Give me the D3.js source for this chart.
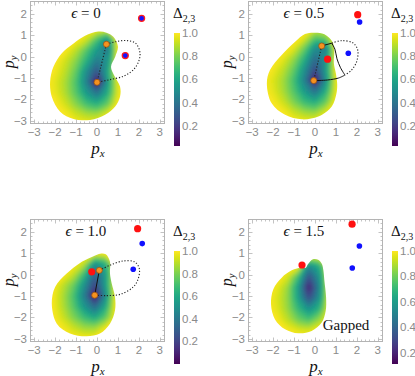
<!DOCTYPE html>
<html>

<head>
	<meta charset="utf-8">
	<script src="https://cdn.jsdelivr.net/npm/d3@7"></script>
	<style>
		body {
			margin: 0;
			background: #fff;
		}

		svg {
			display: block;
		}

		.tick-label {
			font: 11.5px "Liberation Sans", Arial, sans-serif;
			fill: #8a8a8a;
		}

		.serif {
			font-family: "Liberation Serif", "Times New Roman", serif;
			fill: #111;
		}
	</style>
</head>

<body>
	<svg width="415" height="376"></svg>

	<script>
		// ---- data ----
		var epsilons = ["0", "0.5", "1.0", "1.5"];
		var xTicks = [-3, -2, -1, 0, 1, 2, 3];
		var yTicks = [-3, -2, -1, 0, 1, 2];
		var cbTicks = [0.2, 0.4, 0.6, 0.8, 1.0];
		var cbMin = [0.025, 0.025, 0.0, 0.11];

		// Delta_{2,3} sampled on a 0.5 grid; rows go from top (gridY0) downwards
		var gridStep = 0.5;
		var gridX0 = [-2.5, -2.5, -2.6, -2.8];
		var gridY0 = [1.3, 1.4, 1.5, 1.4];

		var grid1 = [
			[1, 1, 1, 1, 1, 1, 1, 1, 1],
			[1, 1, 1, 1, 0.93, 0.72, 0.5, 1, 1],
			[1, 1, 0.99, 0.9, 0.74, 0.55, 0.4, 1, 1],
			[1, 1, 0.93, 0.82, 0.64, 0.42, 0.52, 1, 1],
			[1, 0.98, 0.9, 0.76, 0.5, 0.27, 0.6, 1, 1],
			[1, 0.96, 0.87, 0.72, 0.45, 0.03, 0.55, 0.97, 1],
			[1, 0.97, 0.88, 0.74, 0.55, 0.4, 0.62, 0.96, 1],
			[1, 1, 0.93, 0.82, 0.7, 0.64, 0.76, 1, 1],
			[1, 1, 0.99, 0.93, 0.88, 0.87, 0.97, 1, 1],
			[1, 1, 1, 1, 1, 1, 1, 1, 1],
			[1, 1, 1, 1, 1, 1, 1, 1, 1]
		];
		var grid2 = [
			[1, 1, 1, 1, 1, 1, 1, 1, 1],
			[1, 1, 1, 1, 0.96, 0.75, 0.8, 1, 1],
			[1, 1, 1, 0.96, 0.78, 0.5, 0.42, 1, 1],
			[1, 1, 0.96, 0.84, 0.64, 0.36, 0.5, 1, 1],
			[1, 0.98, 0.9, 0.76, 0.52, 0.24, 0.55, 1, 1],
			[1, 0.95, 0.86, 0.7, 0.45, 0.04, 0.5, 0.97, 1],
			[1, 0.96, 0.87, 0.73, 0.55, 0.38, 0.62, 0.97, 1],
			[1, 0.99, 0.92, 0.8, 0.68, 0.62, 0.76, 1, 1],
			[1, 1, 0.99, 0.92, 0.86, 0.84, 0.95, 1, 1],
			[1, 1, 1, 1, 1, 1, 1, 1, 1],
			[1, 1, 1, 1, 1, 1, 1, 1, 1]
		];
		var grid3 = [
			[1, 1, 1, 1, 1, 1, 1, 1, 1],
			[1, 1, 1, 1, 1, 1, 1, 1, 1],
			[1, 1, 1, 1, 0.9, 0.48, 0.62, 1, 1],
			[1, 1, 1, 0.9, 0.66, 0.3, 0.55, 1, 1],
			[1, 1, 0.9, 0.76, 0.5, 0.2, 0.55, 1, 1],
			[1, 0.99, 0.87, 0.7, 0.42, 0.0, 0.48, 1, 1],
			[1, 0.99, 0.88, 0.73, 0.52, 0.35, 0.6, 1, 1],
			[1, 1, 0.92, 0.8, 0.68, 0.6, 0.75, 1, 1],
			[1, 1, 0.98, 0.92, 0.86, 0.86, 0.98, 1, 1],
			[1, 1, 1, 1, 1, 1, 1, 1, 1],
			[1, 1, 1, 1, 1, 1, 1, 1, 1]
		];
		var grid4 = [
			[1, 1, 1, 1, 1, 1, 1, 1, 1],
			[1, 1, 1, 1, 1, 1, 1, 1, 1],
			[1, 1, 1, 1, 1, 0.52, 0.66, 1, 1],
			[1, 1, 1, 0.95, 0.72, 0.33, 0.57, 1, 1],
			[1, 1, 0.97, 0.86, 0.6, 0.17, 0.52, 1, 1],
			[1, 1, 0.95, 0.85, 0.62, 0.32, 0.56, 1, 1],
			[1, 1, 0.96, 0.86, 0.7, 0.56, 0.68, 1, 1],
			[1, 1, 0.99, 0.91, 0.8, 0.74, 0.86, 1, 1],
			[1, 1, 1, 0.99, 0.96, 0.95, 1, 1, 1],
			[1, 1, 1, 1, 1, 1, 1, 1, 1],
			[1, 1, 1, 1, 1, 1, 1, 1, 1]
		];

		// edge of the coloured region (Delta = 1)
		var outline1 = [[0.06, 1.17], [0.45, 1.12], [0.78, 0.93], [1.0, 0.47], [0.87, 0.0], [0.67, -0.47], [0.81, -0.86], [1.1, -1.4], [1.1, -1.87], [0.87, -2.33], [0.39, -2.72], [-0.33, -2.96], [-1.12, -2.91], [-1.76, -2.57], [-2.16, -1.87], [-2.24, -1.17], [-2.08, -0.47], [-1.68, 0.16], [-1.12, 0.62], [-0.57, 0.98]];
		var outline2 = [[0, 1.12], [0.45, 1.05], [0.83, 0.7], [0.92, 0.31], [0.9, -0.3], [1.0, -0.8], [1.06, -1.3], [1.02, -1.75], [0.8, -2.33], [0.16, -2.8], [-0.63, -2.93], [-1.43, -2.72], [-2.07, -2.18], [-2.3, -1.25], [-2.15, -0.62], [-1.59, 0.08], [-0.95, 0.7], [-0.48, 1.06]];
		var outline3 = [[-0.09, 0.9], [0.15, 0.98], [0.42, 0.95], [0.62, 0.6], [0.62, 0.05], [0.7, -0.4], [0.86, -1.04], [0.86, -1.66], [0.62, -2.29], [0.14, -2.75], [-0.49, -2.88], [-1.29, -2.75], [-1.92, -2.29], [-2.16, -1.35], [-2.0, -0.58], [-1.45, 0.05], [-0.81, 0.55], [-0.41, 0.75]];
		var outline4 = [[-0.1, 0.72], [0.15, 0.7], [0.33, 0.5], [0.4, 0.2], [0.45, -0.3], [0.53, -1.07], [0.51, -1.7], [0.32, -2.24], [-0.16, -2.63], [-0.8, -2.74], [-1.43, -2.55], [-1.91, -2.09], [-2.1, -1.39], [-1.99, -0.68], [-1.59, -0.14], [-1.11, 0.2], [-0.64, 0.33], [-0.45, 0.32], [-0.33, 0.5]];

		// points
		var orange1 = [[0.45, 0.58], [0, -1.2]];
		var orange2 = [[0.32, 0.5], [-0.06, -1.12]];
		var orange3 = [[0.11, 0.2], [-0.11, -0.96]];
		var ringed1 = [[1.35, 0.05], [2.13, 1.79]];
		var red2 = [[0.6, -0.12], [2.04, 1.96]];
		var blue2 = [[1.59, 0.16], [2.13, 1.62]];
		var red3 = [[-0.25, 0.13], [1.94, 2.15]];
		var blue3 = [[1.73, 0.25], [2.16, 1.45]];
		var red4 = [[-0.62, 0.45], [1.77, 2.36]];
		var blue4 = [[2.12, 1.34], [1.78, 0.31]];

		// paths between the points
		var link1 = [[0.45, 0.58], [0, -1.2]];
		var loop1 = [[0.45, 0.58], [0.9, 0.7], [1.42, 0.75], [1.85, 0.62], [2.05, 0.2], [2.0, -0.2], [1.75, -0.6], [1.3, -0.9], [0.6, -1.08], [0, -1.2]];
		var link2 = [[0.32, 0.5], [-0.06, -1.12]];
		var solid2a = [[-0.06, -1.12], [0.6, -1.09], [1.12, -1.0], [1.43, -0.86]];
		var solid2b = [[1.43, -0.86], [1.22, -0.52], [1.05, -0.1], [0.95, 0.35], [0.8, 0.63]];
		var solid2c = [[0.8, 0.63], [0.32, 0.5]];
		var loop2 = [[0.8, 0.63], [1.27, 0.75], [1.83, 0.63], [2.04, 0.31], [1.99, -0.23], [1.75, -0.62], [1.43, -0.86]];
		var link3 = [[0.11, 0.2], [-0.11, -0.96]];
		var loop3 = [[0.11, 0.2], [0.62, 0.44], [1.26, 0.64], [1.81, 0.59], [2.02, 0.28], [1.97, -0.19], [1.73, -0.58], [1.1, -0.92], [0.46, -0.98], [-0.11, -0.96]];

		var panels = [
			{ grid: grid1, outline: outline1, orange: orange1, ringed: ringed1, red: [], blue: [],
				dotted: [link1, loop1], solid: [] },
			{ grid: grid2, outline: outline2, orange: orange2, ringed: [], red: red2, blue: blue2,
				dotted: [link2, loop2], solid: [solid2a, solid2b, solid2c] },
			{ grid: grid3, outline: outline3, orange: orange3, ringed: [], red: red3, blue: blue3,
				dotted: [loop3], solid: [link3] },
			{ grid: grid4, outline: outline4, orange: [], ringed: [], red: red4, blue: blue4,
				dotted: [], solid: [] }
		];

		// ---- layout ----
		var svg = d3.select("svg"),
			frameW = 134,
			frameH = 122,
			lefts = [30, 248, 30, 248],
			tops = [1, 1, 219, 219];

		var defs = svg.append("defs");

		defs.append("filter")
			.attr("id", "soft")
			.attr("x", "-20%").attr("y", "-20%")
			.attr("width", "140%").attr("height", "140%")
			.append("feGaussianBlur")
			.attr("stdDeviation", 2);

		var grad = defs.append("linearGradient")
			.attr("id", "viridis")
			.attr("x1", 0).attr("y1", 1)
			.attr("x2", 0).attr("y2", 0);
		grad.selectAll("stop")
			.data(d3.range(0, 1.0001, 0.05))
			.enter().append("stop")
			.attr("offset", function(d) { return d; })
			.attr("stop-color", function(d) { return d3.interpolateViridis(d); });

		var levels = d3.range(50).map(function(i) { return 1 - i * 0.02; });

		panels.forEach(function(p, k) {
			var left = lefts[k],
				top = tops[k];

			var x = d3.scaleLinear().domain([-3.2, 3.2]).range([left, left + frameW]);
			var y = d3.scaleLinear().domain([-3.1, 2.6]).range([top + frameH, top]);
			var color = d3.scaleSequential(d3.interpolateViridis).domain([cbMin[k], 1]);

			var g = svg.append("g");

			// density region
			var line = d3.line()
				.x(function(d) { return x(d[0]); })
				.y(function(d) { return y(d[1]); });

			defs.append("clipPath")
				.attr("id", "clip" + k)
				.append("path")
				.attr("d", line.curve(d3.curveCatmullRomClosed)(p.outline));

			var n = p.grid[0].length,
				m = p.grid.length,
				x0 = gridX0[k],
				y0 = gridY0[k];
			var values = [];
			p.grid.forEach(function(row) {
				row.forEach(function(v) { values.push(-v); });
			});

			var project = d3.geoTransform({
				point: function(gx, gy) {
					this.stream.point(x(x0 + (gx - 0.5) * gridStep), y(y0 - (gy - 0.5) * gridStep));
				}
			});

			var bands = d3.contours()
				.size([n, m])
				.thresholds(levels.map(function(l) { return -l; }))(values);

			g.append("g")
				.attr("clip-path", "url(#clip" + k + ")")
				.append("g")
				.attr("filter", "url(#soft)")
				.selectAll("path")
				.data(bands)
				.enter().append("path")
				.attr("d", d3.geoPath(project))
				.attr("fill", function(d) { return color(Math.max(cbMin[k], -d.value - 0.01)); });

			// frame + ticks
			g.append("rect")
				.attr("x", left + 0.5).attr("y", top + 0.5)
				.attr("width", frameW).attr("height", frameH)
				.attr("fill", "none")
				.attr("stroke", "#b4b4b4")
				.attr("stroke-width", 1);

			var ticks = g.append("g").attr("stroke", "#b4b4b4").attr("stroke-width", 0.8);
			d3.range(-32, 33, 2).forEach(function(i) {
				var v = i / 10, len = i % 10 === 0 ? 4 : 2, px = Math.round(x(v)) + 0.5;
				ticks.append("line").attr("x1", px).attr("x2", px).attr("y1", top + frameH + 0.5).attr("y2", top + frameH + 0.5 - len);
				ticks.append("line").attr("x1", px).attr("x2", px).attr("y1", top + 0.5).attr("y2", top + 0.5 + len);
			});
			d3.range(-30, 27, 2).forEach(function(i) {
				var v = i / 10, len = i % 10 === 0 ? 4 : 2, py = Math.round(y(v)) + 0.5;
				ticks.append("line").attr("y1", py).attr("y2", py).attr("x1", left + 0.5).attr("x2", left + 0.5 + len);
				ticks.append("line").attr("y1", py).attr("y2", py).attr("x1", left + frameW + 0.5).attr("x2", left + frameW + 0.5 - len);
			});

			g.selectAll(".xl")
				.data(xTicks)
				.enter().append("text")
				.attr("class", "tick-label")
				.attr("x", function(d) { return x(d); })
				.attr("y", top + frameH + 13)
				.attr("text-anchor", "middle")
				.text(function(d) { return d < 0 ? "\u2212" + (-d) : d; });

			g.selectAll(".yl")
				.data(yTicks)
				.enter().append("text")
				.attr("class", "tick-label")
				.attr("x", left - 3)
				.attr("y", function(d) { return y(d) + 4; })
				.attr("text-anchor", "end")
				.text(function(d) { return d < 0 ? "\u2212" + (-d) : d; });

			// curves
			var curve = d3.line()
				.x(function(d) { return x(d[0]); })
				.y(function(d) { return y(d[1]); })
				.curve(d3.curveCatmullRom);

			g.selectAll(".dotted")
				.data(p.dotted)
				.enter().append("path")
				.attr("d", curve)
				.attr("fill", "none")
				.attr("stroke", "#222")
				.attr("stroke-width", 1.1)
				.attr("stroke-dasharray", "1.2,1.8");

			g.selectAll(".solid")
				.data(p.solid)
				.enter().append("path")
				.attr("d", curve)
				.attr("fill", "none")
				.attr("stroke", "#111")
				.attr("stroke-width", 1);

			// points
			g.selectAll(".orange")
				.data(p.orange)
				.enter().append("circle")
				.attr("cx", function(d) { return x(d[0]); })
				.attr("cy", function(d) { return y(d[1]); })
				.attr("r", 3)
				.attr("fill", "#f59220")
				.attr("stroke", "#9c5410")
				.attr("stroke-width", 0.8);

			g.selectAll(".ringed")
				.data(p.ringed)
				.enter().append("circle")
				.attr("cx", function(d) { return x(d[0]); })
				.attr("cy", function(d) { return y(d[1]); })
				.attr("r", 3)
				.attr("fill", "#1414ff")
				.attr("stroke", "#ff1a1a")
				.attr("stroke-width", 1.3);

			g.selectAll(".red")
				.data(p.red)
				.enter().append("circle")
				.attr("cx", function(d) { return x(d[0]); })
				.attr("cy", function(d) { return y(d[1]); })
				.attr("r", 3.6)
				.attr("fill", "#ff1010");

			g.selectAll(".blue")
				.data(p.blue)
				.enter().append("circle")
				.attr("cx", function(d) { return x(d[0]); })
				.attr("cy", function(d) { return y(d[1]); })
				.attr("r", 2.8)
				.attr("fill", "#1010ff");

			// labels
			var eps = g.append("text")
				.attr("class", "serif")
				.attr("x", left + 56)
				.attr("y", top + 17)
				.attr("text-anchor", "middle")
				.style("font-size", "15px");
			eps.append("tspan").style("font-style", "italic").text("\u03f5");
			eps.append("tspan").text(" = " + epsilons[k]);

			var px = g.append("text")
				.attr("class", "serif")
				.attr("x", left + frameW / 2 + 1)
				.attr("y", top + 153)
				.attr("text-anchor", "middle")
				.style("font-style", "italic")
				.style("font-size", "17px");
			px.append("tspan").text("p");
			px.append("tspan").attr("dy", 3).style("font-size", "11px").text("x");

			var py = g.append("text")
				.attr("class", "serif")
				.attr("transform", "translate(" + (left - 16) + "," + (top + 61) + ") rotate(-90)")
				.attr("text-anchor", "middle")
				.style("font-style", "italic")
				.style("font-size", "16px");
			py.append("tspan").text("p");
			py.append("tspan").attr("dy", 3).style("font-size", "10.5px").text("y");

			// colour bar
			var cbX = left + 144,
				cb = d3.scaleLinear().domain([cbMin[k], 1]).range([top + 145, top + 32]);

			g.append("rect")
				.attr("x", cbX).attr("y", cb(1))
				.attr("width", 6).attr("height", cb(cbMin[k]) - cb(1))
				.attr("fill", "url(#viridis)");

			g.selectAll(".cbl")
				.data(cbTicks.filter(function(d) { return d >= cbMin[k]; }))
				.enter().append("text")
				.attr("class", "tick-label")
				.attr("x", cbX + 8)
				.attr("y", function(d) { return cb(d) + 4; })
				.text(d3.format(".1f"));

			var delta = g.append("text")
				.attr("class", "serif")
				.attr("x", cbX - 1)
				.attr("y", top + 17)
				.style("font-size", "15px");
			delta.append("tspan").text("\u0394");
			delta.append("tspan").attr("dy", 4).style("font-size", "10px").text("2,3");

			if (k === 3) {
				g.append("text")
					.attr("class", "serif")
					.attr("x", x(1.48))
					.attr("y", y(-2.58))
					.attr("text-anchor", "middle")
					.style("font-size", "15px")
					.text("Gapped");
			}
		});
	</script>

</body>

</html>
